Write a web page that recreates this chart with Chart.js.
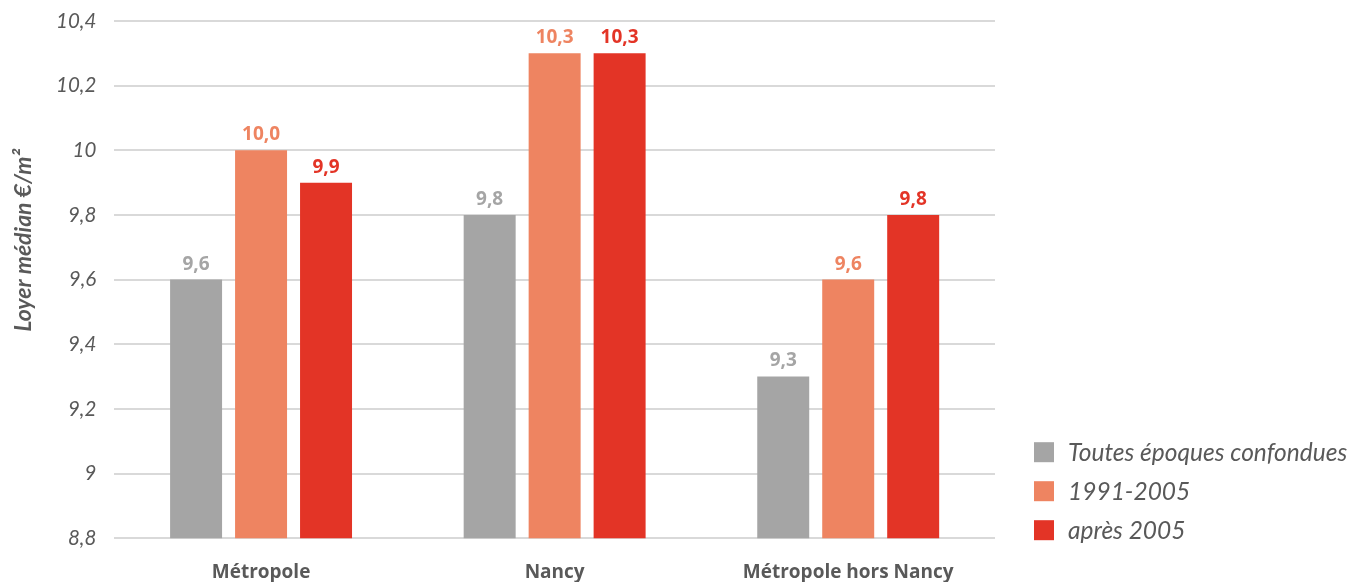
<!DOCTYPE html>
<html>
<head>
<meta charset="utf-8">
<script src="https://cdn.jsdelivr.net/npm/chart.js@4/dist/chart.umd.min.js"></script>
<style>
  html, body { margin: 0; padding: 0; background: #ffffff; }
  #wrap { position: relative; width: 1363px; height: 582px; }
</style>
</head>
<body>
<div id="wrap"><canvas id="chart" width="1363" height="582"></canvas></div>
<script>
const categories = ['Métropole', 'Nancy', 'Métropole hors Nancy'];
const seriesNames = ['Toutes époques confondues', '1991-2005', 'après 2005'];
const toutesEpoques = [9.6, 9.8, 9.3];
const periode1991_2005 = [10.0, 10.3, 9.6];
const apres2005 = [9.9, 10.3, 9.8];
const seriesColors = ['#a5a5a5', '#ee8461', '#e33426'];
const yTitle = 'Loyer médian €/m²';

const FONT = 'Lato, "Open Sans", sans-serif';
const BOLD_FONT = '"Open Sans", Lato, sans-serif';
const TEXT_GREY = '#595959';
const fmt = v => v.toFixed(1).replace('.', ',');

// Value labels above each bar, in the bar's own colour
const valueLabels = {
  id: 'valueLabels',
  afterDatasetsDraw(chart) {
    const ctx = chart.ctx;
    ctx.save();
    ctx.font = 'bold 19px ' + BOLD_FONT;
    ctx.textAlign = 'center';
    ctx.textBaseline = 'bottom';
    chart.data.datasets.forEach((ds, i) => {
      const meta = chart.getDatasetMeta(i);
      ctx.fillStyle = ds.backgroundColor;
      meta.data.forEach((bar, j) => {
        ctx.fillText(fmt(ds.data[j]), bar.x, bar.y - 6);
      });
    });
    ctx.restore();
  }
};

// Legend to the right of the plot, stacked towards the bottom,
// plus the rotated value-axis title on the left
const sideTexts = {
  id: 'sideTexts',
  afterDraw(chart) {
    const ctx = chart.ctx;
    const area = chart.chartArea;
    const box = 20, rowGap = 39;
    const x = area.right + 39;
    const n = chart.data.datasets.length;
    ctx.save();
    ctx.font = 'italic 24.5px ' + FONT;
    ctx.textAlign = 'left';
    ctx.textBaseline = 'middle';
    chart.data.datasets.forEach((ds, i) => {
      const cy = area.bottom - 8 - (n - 1 - i) * rowGap;
      ctx.fillStyle = ds.backgroundColor;
      ctx.fillRect(x, cy - box / 2, box, box);
      ctx.fillStyle = TEXT_GREY;
      ctx.fillText(ds.label, x + box + 14, cy + 1);
    });
    ctx.restore();

    ctx.save();
    ctx.translate(24, area.top + (area.bottom - area.top) * 0.424);
    ctx.rotate(-Math.PI / 2);
    ctx.font = 'italic bold 23px ' + FONT;
    ctx.fillStyle = TEXT_GREY;
    ctx.textAlign = 'center';
    ctx.textBaseline = 'middle';
    ctx.fillText(yTitle, 0, 0);
    ctx.restore();
  }
};

new Chart(document.getElementById('chart'), {
  type: 'bar',
  data: {
    labels: categories,
    datasets: [
      { label: seriesNames[0], data: toutesEpoques, backgroundColor: seriesColors[0] },
      { label: seriesNames[1], data: periode1991_2005, backgroundColor: seriesColors[1] },
      { label: seriesNames[2], data: apres2005, backgroundColor: seriesColors[2] }
    ]
  },
  options: {
    responsive: false,
    animation: false,
    layout: { padding: { top: 21, right: 368, left: 38, bottom: -25 } },
    datasets: {
      bar: { categoryPercentage: 0.664, barPercentage: 0.8 }
    },
    plugins: {
      tooltip: { enabled: false },
      legend: { display: false }
    },
    scales: {
      x: {
        grid: { display: false, drawTicks: false },
        border: { display: false },
        ticks: {
          padding: 23,
          color: TEXT_GREY,
          font: { family: BOLD_FONT, size: 19, weight: 'bold' }
        }
      },
      y: {
        min: 8.8,
        max: 10.4,
        grid: { color: '#d9d9d9', lineWidth: 2, drawTicks: false },
        border: { display: false },
        afterFit: s => { s.paddingTop = 0; s.paddingBottom = 0; },
        ticks: {
          stepSize: 0.2,
          padding: 18,
          color: TEXT_GREY,
          font: { family: FONT, size: 20.5, style: 'italic' },
          callback: v => {
            const r = Math.round(v * 10) / 10;
            return Number.isInteger(r) ? String(r) : r.toFixed(1).replace('.', ',');
          }
        }
      }
    }
  },
  plugins: [valueLabels, sideTexts]
});
</script>
</body>
</html>
